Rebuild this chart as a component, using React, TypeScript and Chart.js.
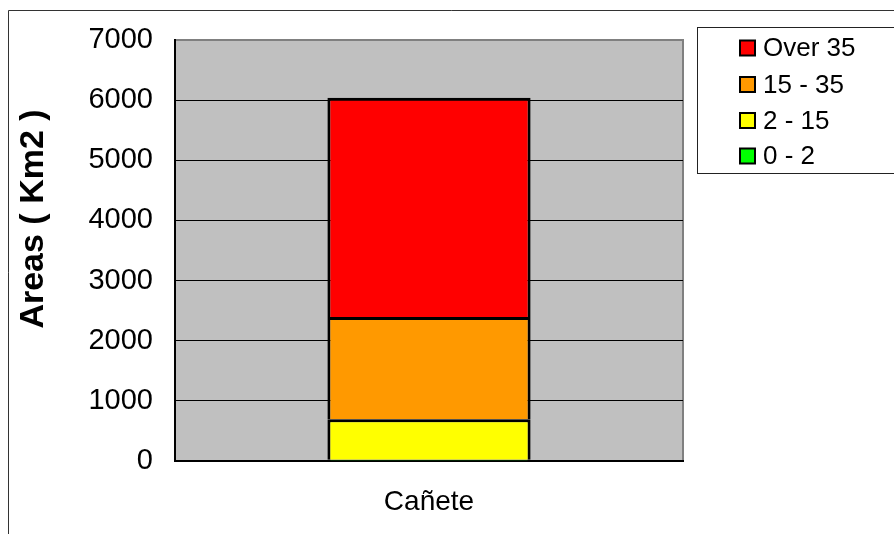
import React, { useEffect, useRef } from "react";
import { Chart, registerables } from "chart.js";

Chart.register(...registerables);

const categories = ["Cañete"];
const seriesNames = ["0 - 2", "2 - 15", "15 - 35", "Over 35"];
const seriesColors = ["#00FF00", "#FFFF00", "#FF9900", "#FF0000"];
const values0to2 = [20];
const values2to15 = [673];
const values15to35 = [1702];
const valuesOver35 = [3645];
const yTickMax = 7000;
const yTickStep = 1000;
const yTitle = "Areas ( Km2 )";

const FONT = "Arial, 'Liberation Sans', sans-serif";

const framePlugin = {
  id: "framePlugin",
  beforeDraw(chart: any) {
    const { ctx, chartArea } = chart;
    ctx.save();
    ctx.fillStyle = "#ffffff";
    ctx.fillRect(0, 0, chart.width, chart.height);
    ctx.strokeStyle = "#333333";
    ctx.lineWidth = 1;
    ctx.beginPath();
    ctx.moveTo(8.5, chart.height + 5);
    ctx.lineTo(8.5, 10.5);
    ctx.lineTo(chart.width + 5, 10.5);
    ctx.stroke();
    ctx.fillStyle = "#C0C0C0";
    ctx.fillRect(chartArea.left, chartArea.top, chartArea.right - chartArea.left, chartArea.bottom - chartArea.top);
    ctx.strokeStyle = "#808080";
    ctx.lineWidth = 2;
    ctx.beginPath();
    ctx.moveTo(chartArea.left, chartArea.top);
    ctx.lineTo(chartArea.right, chartArea.top);
    ctx.lineTo(chartArea.right, chartArea.bottom);
    ctx.stroke();
    ctx.restore();
  },
  afterDraw(chart: any) {
    const { ctx } = chart;
    ctx.save();
    // y title
    ctx.translate(34, 219);
    ctx.rotate(-Math.PI / 2);
    ctx.font = `bold 34px ${FONT}`;
    ctx.fillStyle = "#000";
    ctx.textAlign = "center";
    ctx.textBaseline = "middle";
    ctx.fillText(yTitle, 0, 0);
    ctx.restore();

    // legend
    ctx.save();
    ctx.fillStyle = "#fff";
    ctx.fillRect(697.5, 27.5, 300, 146);
    ctx.strokeStyle = "#222";
    ctx.lineWidth = 1;
    ctx.strokeRect(697.5, 27.5, 300, 146);
    const ds = chart.data.datasets.slice().reverse();
    const ys = [48, 84.5, 120.5, 156];
    ctx.font = `26px ${FONT}`;
    ctx.textBaseline = "middle";
    ctx.textAlign = "left";
    ds.forEach((d: any, i: number) => {
      const y = ys[i];
      ctx.fillStyle = d.backgroundColor;
      ctx.fillRect(740, y - 7.5, 15, 15);
      ctx.strokeStyle = "#000";
      ctx.lineWidth = 2;
      ctx.strokeRect(740, y - 7.5, 15, 15);
      ctx.fillStyle = "#000";
      ctx.fillText(d.label, 763, y + 1);
    });
    ctx.restore();
  },
};

export default function App() {
  const ref = useRef<HTMLCanvasElement>(null);
  useEffect(() => {
    const seriesValues = [values0to2, values2to15, values15to35, valuesOver35];
    const chart = new Chart(ref.current!, {
      type: "bar",
      data: {
        labels: categories,
        datasets: seriesNames.map((name, i) => ({
          label: name,
          data: seriesValues[i],
          backgroundColor: seriesColors[i],
          borderColor: "#000000",
          borderWidth: 3,
          barPercentage: 0.4,
          categoryPercentage: 1,
        })),
      },
      options: {
        responsive: false,
        animation: false,
        devicePixelRatio: 1,
        layout: { padding: { left: 0, top: 40, right: 211, bottom: 0 } },
        plugins: { legend: { display: false }, tooltip: { enabled: false } },
        scales: {
          x: {
            stacked: true,
            grid: { display: false, drawTicks: false },
            border: { display: true, color: "#000", width: 2 },
            ticks: { color: "#000", font: { family: FONT, size: 28 }, padding: 24 },
            afterFit(scale: any) {
              scale.height = 73;
            },
          },
          y: {
            stacked: true,
            min: 0,
            max: yTickMax,
            ticks: {
              stepSize: yTickStep,
              color: "#000",
              font: { family: FONT, size: 29 },
              padding: 22,
              callback: (v: any) => String(v),
            },
            grid: {
              drawTicks: false,
              color: (c: any) => (c.tick && c.tick.value === yTickMax ? "#808080" : "#000000"),
              lineWidth: 1,
            },
            border: { display: true, color: "#000", width: 2 },
            afterFit(scale: any) {
              scale.width = 175;
            },
          },
        },
      },
      plugins: [framePlugin],
    });
    return () => chart.destroy();
  }, []);
  return (
    <div style={{ position: "fixed", left: 0, top: 0, width: 894, height: 534, background: "#fff" }}>
      <canvas ref={ref} width={894} height={534} style={{ display: "block" }} />
    </div>
  );
}
